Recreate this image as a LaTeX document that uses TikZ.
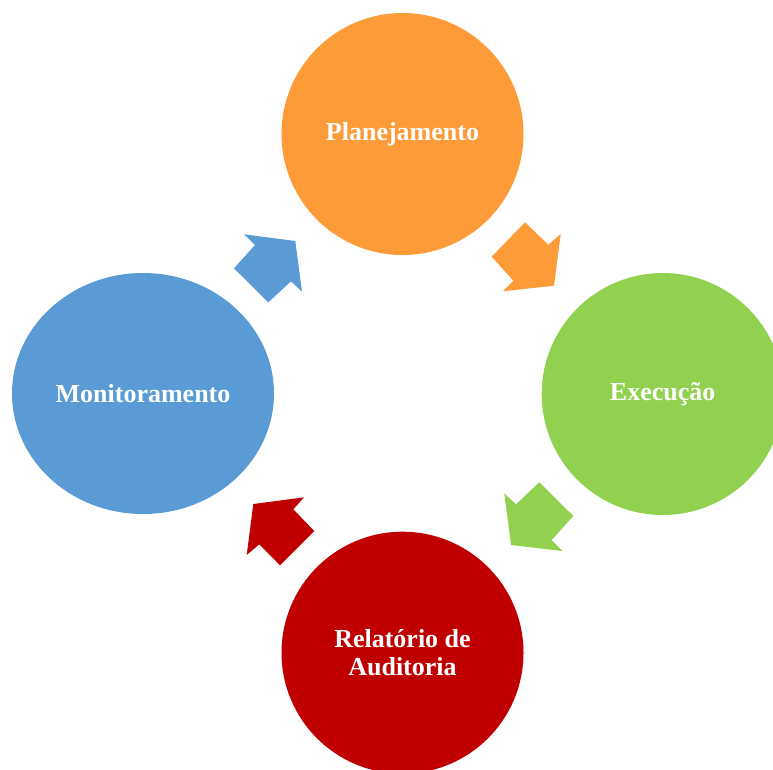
\documentclass[tikz,border=0pt]{standalone}
\usepackage{fontspec}
\setmainfont{Liberation Serif}
\usetikzlibrary{shapes.geometric}
\definecolor{cOrange}{HTML}{FD9B38}
\definecolor{cGreen}{HTML}{92D050}
\definecolor{cRed}{HTML}{C00000}
\definecolor{cBlue}{HTML}{5B9BD5}
\tikzset{
  stage/.style={circle, inner sep=0pt, minimum size=242pt, text=white,
    font=\fontsize{26}{28}\selectfont\bfseries, align=center},
}
\begin{document}
\begin{tikzpicture}[x=1pt,y=-1pt]
\useasboundingbox (0,0) rectangle (773,769);
\clip (0,0) rectangle (773,769);
\node[stage, fill=cOrange] (plan) at (402.5,134) {Planejamento};
\node[stage, fill=cGreen] (exec) at (662.7,394) {Execução};
\node[stage, fill=cRed] (rel) at (402.5,652.7) {Relatório de\\Auditoria};
\node[stage, ellipse, fill=cBlue, minimum width=262pt, minimum height=241pt] (mon) at (143,393.5) {Monitoramento};
% arrows
\fill[cOrange] (525,222.3) -- (548.3,244.7) -- (560.7,234) -- (554,285.7) -- (502.7,291.3) -- (513.3,280.7) -- (491.7,256.7) -- cycle;
\fill[cGreen] (539.3,482.3) -- (573.3,516) -- (551.7,540) -- (562.3,551) -- (511,545) -- (504.3,493.3) -- (516,504.3) -- cycle;
\fill[cRed] (304,497.3) -- (293.3,509.3) -- (314.3,531) -- (280,565.3) -- (259.3,544.3) -- (246.7,555) -- (253.3,504) -- cycle;
\fill[cBlue] (244,234.3) -- (295.3,241) -- (302,291.7) -- (291,281.3) -- (268.3,302.3) -- (234,268.3) -- (255,245) -- cycle;
\end{tikzpicture}
\end{document}
